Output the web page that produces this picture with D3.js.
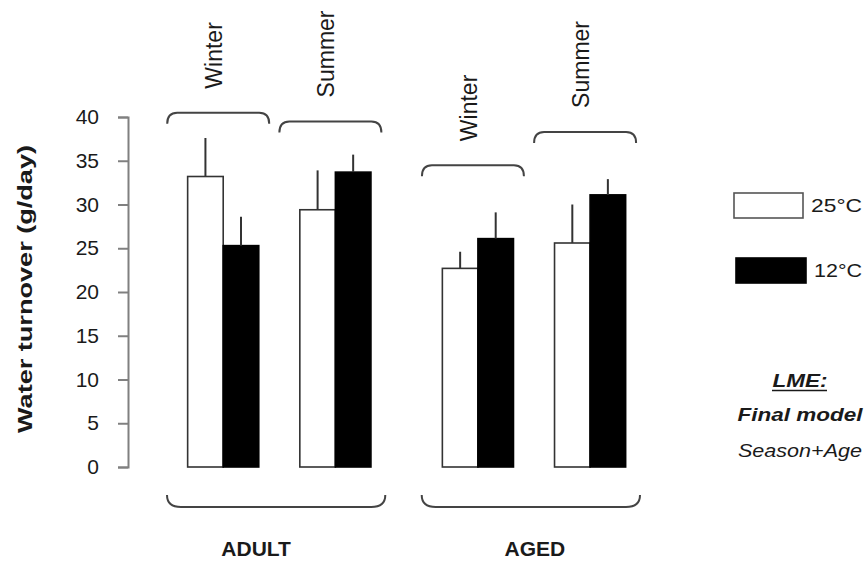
<!DOCTYPE html>
<html><head><meta charset="utf-8">
<script src="https://cdn.jsdelivr.net/npm/d3@7"></script>
<style>body{margin:0;background:#fff} svg{display:block}</style>
</head><body><svg id="chart" width="865" height="561"></svg>
<script>
// ---------- data ----------
const ageGroups = ["ADULT", "AGED"];
const seasons = ["Winter", "Summer"];
const temps = ["25°C", "12°C"];
// order: ADULT-Winter, ADULT-Summer, AGED-Winter, AGED-Summer
const mean25 = [33.2, 29.4, 22.7, 25.6];
const se25   = [4.4, 4.5, 1.9, 4.4];
const mean12 = [25.3, 33.7, 26.1, 31.1];
const se12   = [3.3, 2.0, 3.0, 1.8];
const braceLevels = [40.5, 39.5, 34.5, 38.3];   // height (g/day) of the season braces
const yTicks = [0, 5, 10, 15, 20, 25, 30, 35, 40];
const yTitle = "Water turnover (g/day)";
const modelNote = ["LME:", "Final model", "Season+Age"];

// ---------- layout ----------
const font = "'Liberation Sans', Arial, Helvetica, sans-serif";
const ink = "#1a1a1a";
const svg = d3.select("#chart").style("font-family", font);

const rows = [];
ageGroups.forEach((age, ai) => seasons.forEach((season, si) => {
  const i = ai * 2 + si;
  rows.push({age, season, i, values: [
    {temp: temps[0], mean: mean25[i], se: se25[i]},
    {temp: temps[1], mean: mean12[i], se: se12[i]}
  ], brace: braceLevels[i]});
}));

const y = d3.scaleLinear().domain([0, 40]).range([467, 117]);
const xAge = d3.scaleBand().domain(ageGroups).range([167, 640]).paddingInner(0.143).paddingOuter(0);
const xSeason = d3.scaleBand().domain(seasons).range([0, xAge.bandwidth()])
  .paddingInner(0.366).paddingOuter(0.156).align(0.59);
const xTemp = d3.scaleBand().domain(temps).range([0, xSeason.bandwidth()]).padding(0);
const fill = d3.scaleOrdinal().domain(temps).range(["#ffffff", "#000000"]);
const stroke = d3.scaleOrdinal().domain(temps).range(["#333333", "#000000"]);

// ---------- axis ----------
const axisG = svg.append("g").attr("transform", "translate(128,0)")
  .call(d3.axisLeft(y).tickValues(yTicks).tickSize(10).tickSizeOuter(10).tickPadding(19));
axisG.select(".domain").attr("stroke", "#808080").attr("stroke-width", 2);
axisG.selectAll(".tick line").attr("stroke", "#808080").attr("stroke-width", 2);
axisG.selectAll(".tick text").attr("font-size", 21).attr("fill", ink).attr("font-family", font);

svg.append("text")
  .attr("transform", "translate(25,289) rotate(-90)")
  .attr("text-anchor", "middle").attr("dy", "0.35em")
  .attr("font-size", 21).attr("font-weight", "bold").attr("fill", ink)
  .attr("textLength", 288).attr("lengthAdjust", "spacingAndGlyphs")
  .text(yTitle);

// ---------- bars ----------
const groups = svg.append("g").selectAll("g").data(rows).join("g")
  .attr("transform", d => `translate(${xAge(d.age) + xSeason(d.season)},0)`);

groups.selectAll("rect").data(d => d.values).join("rect")
  .attr("x", v => xTemp(v.temp))
  .attr("y", v => y(v.mean))
  .attr("width", xTemp.bandwidth())
  .attr("height", v => y(0) - y(v.mean))
  .attr("fill", v => fill(v.temp))
  .attr("stroke", v => stroke(v.temp))
  .attr("stroke-width", 1.6);

groups.selectAll("line.err").data(d => d.values).join("line")
  .attr("class", "err")
  .attr("x1", v => xTemp(v.temp) + xTemp.bandwidth() / 2)
  .attr("x2", v => xTemp(v.temp) + xTemp.bandwidth() / 2)
  .attr("y1", v => y(v.mean))
  .attr("y2", v => y(v.mean + v.se))
  .attr("stroke", "#333").attr("stroke-width", 2);

// ---------- season braces + labels ----------
const braceHalf = 51, braceDrop = 11, braceR = 10;
rows.forEach(d => {
  const cx = xAge(d.age) + xSeason(d.season) + xSeason.bandwidth() / 2 - 5;
  const yf = y(d.brace), tip = yf + braceDrop;
  const x0 = cx - braceHalf, x1 = cx + braceHalf;
  svg.append("path")
    .attr("d", `M${x0},${tip} Q${x0},${yf} ${x0 + braceR},${yf} L${x1 - braceR},${yf} Q${x1},${yf} ${x1},${tip}`)
    .attr("fill", "none").attr("stroke", "#444").attr("stroke-width", 2);
  svg.append("text")
    .attr("transform", `translate(${cx - 4},${yf - 24}) rotate(-90)`)
    .attr("text-anchor", "start").attr("dy", "0.35em")
    .attr("font-size", 23).attr("fill", ink)
    .text(d.season);
});

// ---------- age braces + labels ----------
const ageDx = {ADULT: -20, AGED: 4};
ageGroups.forEach(age => {
  const x0 = xAge(age), x1 = x0 + xAge.bandwidth();
  const tip = y(0) + 28, yf = y(0) + 40;
  svg.append("path")
    .attr("d", `M${x0},${tip} Q${x0},${yf} ${x0 + 14},${yf} L${x1 - 14},${yf} Q${x1},${yf} ${x1},${tip}`)
    .attr("fill", "none").attr("stroke", "#444").attr("stroke-width", 2);
  svg.append("text")
    .attr("x", (x0 + x1) / 2 + ageDx[age]).attr("y", 556)
    .attr("text-anchor", "middle").attr("font-size", 21).attr("font-weight", "bold").attr("fill", ink)
    .text(age);
});

// ---------- legend ----------
const legend = [
  {temp: temps[0], x: 734, y: 193, w: 69, tx: 811, tl: 51},
  {temp: temps[1], x: 736, y: 258, w: 70, tx: 814, tl: 48}
];
legend.forEach(l => {
  svg.append("rect").attr("x", l.x).attr("y", l.y).attr("width", l.w).attr("height", 25)
    .attr("fill", fill(l.temp)).attr("stroke", l.temp === temps[0] ? "#555" : "#000").attr("stroke-width", 1.6);
  svg.append("text").attr("x", l.tx).attr("y", l.y + 12.5).attr("dy", "0.35em")
    .attr("font-size", 19).attr("fill", ink)
    .attr("textLength", l.tl).attr("lengthAdjust", "spacingAndGlyphs")
    .text(l.temp);
});

// ---------- model note ----------
const noteStyle = [
  {y: 387, weight: "bold", len: 55},
  {y: 421, weight: "bold", len: 125},
  {y: 456.5, weight: "normal", len: 124}
];
modelNote.forEach((t, i) => {
  svg.append("text").attr("x", 800).attr("y", noteStyle[i].y)
    .attr("text-anchor", "middle").attr("font-size", 18)
    .attr("font-style", "italic").attr("font-weight", noteStyle[i].weight).attr("fill", ink)
    .attr("textLength", noteStyle[i].len).attr("lengthAdjust", "spacingAndGlyphs")
    .text(t);
});
svg.append("line").attr("x1", 772).attr("x2", 827).attr("y1", 390.5).attr("y2", 390.5)
  .attr("stroke", ink).attr("stroke-width", 1.5);
</script>
</body></html>
